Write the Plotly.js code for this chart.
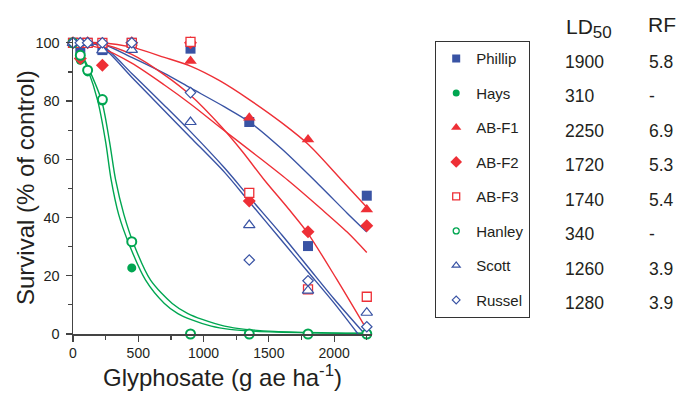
<!DOCTYPE html>
<html><head><meta charset="utf-8">
<script src="https://cdn.plot.ly/plotly-3.0.1.min.js"></script>
<style>html,body{margin:0;padding:0;background:#fff}#chart{width:682px;height:396px}</style>
</head><body><div id="chart"></div>
<script>
// ---- data ----
const doses = [0, 56, 112, 225, 450, 900, 1350, 1800, 2250];
const names = ['Phillip', 'Hays', 'AB-F1', 'AB-F2', 'AB-F3', 'Hanley', 'Scott', 'Russel'];
const phillip = [100, 98, 100, 97.5, 100, 98, 72.8, 30.2, 47.5];
const hays    = [100, 94, 90, 80, 22.7, 0, 0, 0, 0];
const abf1    = [100, 100, 100, 100, 100, 93.8, 74.3, 66.8, 42.8];
const abf2    = [100, 94.6, 100, 92.3, 100, 100, 45.7, 35.1, 37.2];
const abf3    = [100, 100, 100, 100, 100, 100.3, 48.5, 15.3, 12.8];
const hanley  = [100, 95.7, 90.6, 80.5, 31.7, 0, 0, 0, 0];
const scott   = [100, 100, 100, 97.4, 97.6, 72.8, 37.4, 14.9, 7.3];
const russel  = [100, 100, 100, 100, 100, 82.9, 25.4, 18.3, 2.5];

// fitted curves
const haysFitX   = [0, 56, 112, 190, 250, 292, 350, 428, 556, 700, 803, 900, 1059, 1200, 1400, 1800, 2250];
const haysFitY   = [100, 96.5, 91, 80, 66, 53, 41, 31, 18.5, 10.5, 7, 5, 2.7, 1.6, 0.9, 0.4, 0.2];
const hanleyFitX = [0, 56, 112, 220, 280, 326, 390, 464, 594, 760, 880, 990, 1161, 1320, 1540, 1980, 2250];
const hanleyFitY = [100, 97, 92, 80, 66, 53, 41, 31, 18.5, 10.5, 7, 5, 2.7, 1.6, 0.9, 0.4, 0.3];
const phillipFitX = [0, 225, 450, 700, 900, 1161, 1352, 1600, 1889, 2100, 2250];
const phillipFitY = [100, 99.5, 95, 89.5, 84.5, 78, 72.8, 63.5, 51, 41.5, 35];
const scottFitX  = [0, 112, 225, 450, 700, 900, 1161, 1350, 1600, 1800, 2000, 2183];
const scottFitY  = [100, 100, 98.5, 88.2, 76.7, 67.5, 55.5, 45.4, 32, 21.3, 10.6, 0];
const russelFitX = [0, 112, 225, 450, 700, 900, 1161, 1350, 1600, 1800, 2000, 2234];
const russelFitY = [100, 100, 99, 89.5, 78.5, 69.5, 57, 47, 34, 23, 12, 0];
const abf1FitX = [0, 225, 450, 700, 900, 1123, 1350, 1600, 1805, 2055, 2250];
const abf1FitY = [100, 100, 98.5, 95, 92, 87, 80.5, 72.5, 65, 53, 43.5];
const abf2FitX = [0, 225, 450, 700, 900, 1140, 1400, 1646, 1900, 2100, 2250];
const abf2FitY = [100, 98, 93, 85.5, 79, 70.5, 61.5, 52.8, 43, 35, 28];
const abf3FitX = [0, 225, 450, 700, 900, 1140, 1300, 1467, 1650, 1800, 2017, 2250];
const abf3FitY = [100, 99.5, 96, 89, 82, 71, 62.5, 52.8, 43, 34.5, 19, 1.5];

const ld50 = ['1900', '310', '2250', '1720', '1740', '340', '1260', '1280'];
const rf   = ['5.8', '-', '6.9', '5.3', '5.4', '-', '3.9', '3.9'];

// ---- styles ----
const BLUE = '#3953a4', RED = '#ee2f36', GREEN = '#00a651', TXT = '#231f20';
const FONT = 'Liberation Sans, Arial, sans-serif';

const traces = [];
function curve(x, y, color) {
  traces.push({x: x, y: y, mode: 'lines', line: {color: color, width: 1.4, shape: 'spline', smoothing: 0.8},
    showlegend: false, hoverinfo: 'skip', cliponaxis: false});
}
curve(haysFitX, haysFitY, GREEN);
curve(hanleyFitX, hanleyFitY, GREEN);
curve(phillipFitX, phillipFitY, BLUE);
curve(scottFitX, scottFitY, BLUE);
curve(russelFitX, russelFitY, BLUE);
curve(abf1FitX, abf1FitY, RED);
curve(abf2FitX, abf2FitY, RED);
curve(abf3FitX, abf3FitY, RED);

const series = [phillip, hays, abf1, abf2, abf3, hanley, scott, russel];
const symbols = ['square', 'circle', 'triangle-up', 'diamond', 'square', 'circle', 'triangle-up', 'diamond'];
const fills   = [BLUE, GREEN, RED, RED, '#fff', '#fff', '#fff', '#fff'];
const edges   = [BLUE, GREEN, RED, RED, RED, GREEN, BLUE, BLUE];
const edgeW   = [0, 0, 0, 0, 1.3, 2, 1.2, 1.2];
const plotSize   = [10, 9, 11, 10, 9, 9, 10, 8];
const legendSize = [8, 7, 9, 9, 7, 6, 7, 6];

series.forEach((s, i) => {
  traces.push({x: doses, y: s, name: names[i], mode: 'markers', showlegend: false,
    marker: {symbol: symbols[i], size: plotSize[i], color: fills[i], line: {width: edgeW[i], color: edges[i]}},
    legendgroup: 'g' + i, cliponaxis: false});
});
// legend entries (smaller symbols as in the reference key)
series.forEach((s, i) => {
  traces.push({x: [null], y: [null], name: names[i], mode: 'markers', showlegend: true,
    marker: {symbol: symbols[i], size: legendSize[i], color: fills[i],
      line: {width: Math.min(edgeW[i], 1.3), color: edges[i]}},
    legendgroup: 'g' + i});
});

// ---- layout helpers ----
const L = 73, R = 310, T = 37, B = 62, W = 682, H = 396;
const pw = W - L - R, ph = H - T - B;
const px = v => (v - L) / pw;
const py = v => (H - B - v) / ph;

const annotations = [];
function ann(text, x, y, size) {
  annotations.push({text: text, xref: 'paper', yref: 'paper', x: px(x), y: py(y),
    xanchor: 'left', yanchor: 'middle', showarrow: false, font: {family: FONT, size: size, color: TXT}});
}
ann('LD<sub><span style="font-size:17px">50</span></sub>', 564, 29, 21);
ann('RF', 646, 24, 21);
ld50.forEach((v, i) => ann(v, 563, 61.7 + i * 34.5, 17.5));
rf.forEach((v, i) => ann(v, 647, 61.7 + i * 34.5, 17.5));
// y-axis title placed as rotated annotation
annotations.push({text: 'Survival (% of control)', xref: 'paper', yref: 'paper', x: px(25), y: py(188),
  xanchor: 'center', yanchor: 'middle', textangle: -90, showarrow: false,
  font: {family: FONT, size: 24, color: TXT}});

const layout = {
  width: W, height: H,
  margin: {l: L, r: R, t: T, b: B, pad: 0},
  paper_bgcolor: '#fff', plot_bgcolor: '#fff',
  font: {family: FONT, color: TXT},
  showlegend: true,
  legend: {x: px(435), y: py(41), xanchor: 'left', yanchor: 'top', bordercolor: '#333', borderwidth: 1.2,
    font: {family: FONT, size: 15, color: TXT}, tracegroupgap: 12, traceorder: 'grouped',
    entrywidth: 62, entrywidthmode: 'pixels'},
  xaxis: {range: [0, 2290], showgrid: false, zeroline: false, showline: true, linecolor: '#444', linewidth: 1.5,
    ticks: 'outside', ticklen: 6, tickcolor: '#444', tickwidth: 1.2, dtick: 500, tick0: 0,
    tickfont: {family: FONT, size: 14, color: TXT},
    minor: {dtick: 250, ticks: 'outside', ticklen: 4, tickcolor: '#444'},
    title: {text: 'Glyphosate (g ae ha<sup>-1</sup>)', font: {family: FONT, size: 24, color: TXT}, standoff: 9}},
  yaxis: {range: [0, 102], showgrid: false, zeroline: false, showline: true, linecolor: '#444', linewidth: 1.5,
    ticks: 'outside', ticklen: 6, tickcolor: '#444', tickwidth: 1.2, dtick: 20, tick0: 0,
    ticklabelstandoff: 3,
    tickfont: {family: FONT, size: 14.5, color: TXT},
    minor: {dtick: 10, ticks: 'outside', ticklen: 4, tickcolor: '#444'}},
  annotations: annotations
};

Plotly.newPlot('chart', traces, layout, {displayModeBar: false, staticPlot: true});
</script>
</body></html>
